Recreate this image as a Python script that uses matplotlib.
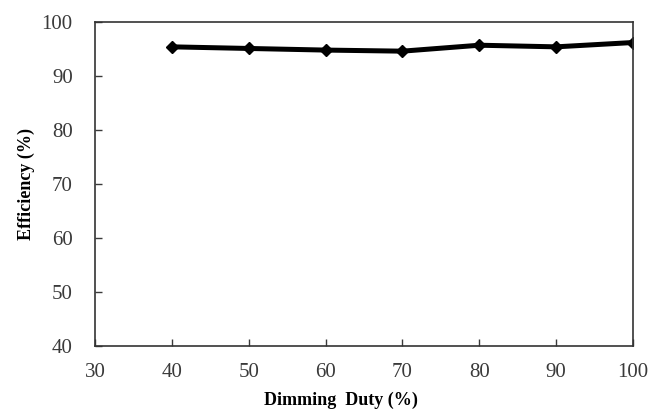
import matplotlib
matplotlib.use("Agg")
import matplotlib.pyplot as plt

duty = [40, 50, 60, 70, 80, 90, 100]
efficiency = [95.4, 95.1, 94.8, 94.6, 95.7, 95.4, 96.2]
x_ticks = [30, 40, 50, 60, 70, 80, 90, 100]
y_ticks = [40, 50, 60, 70, 80, 90, 100]

plt.rcParams['font.family'] = ['Liberation Serif', 'DejaVu Serif']

fig = plt.figure(figsize=(6.54, 4.16), dpi=100)
ax = fig.add_axes([95/654, 1-346/416, (633-95)/654, (346-22)/416])
ax.plot(duty, efficiency, color='black', lw=3.6, marker='D', ms=6, solid_joinstyle='round')
ax.set_xlim(30, 100)
ax.set_ylim(40, 100)
ax.set_xticks(x_ticks)
ax.set_yticks(y_ticks)
ax.tick_params(direction='in', length=5, width=1, labelsize=15, colors='#3a3a3a')
ax.tick_params(axis='y', pad=16)
ax.tick_params(axis='x', pad=12)
for s in ax.spines.values():
    s.set_linewidth(1.2)
    s.set_color('#333333')
ax.set_xlabel('Dimming  Duty (%)', fontsize=13, fontweight='bold', va='center', ha='center')
ax.xaxis.set_label_coords((341-95)/538, (346-400)/324)
ax.set_ylabel('Efficiency (%)', fontsize=13, fontweight='bold', va='center', ha='center')
ax.yaxis.set_label_coords((26-95)/538, 0.5)
fig.savefig('out.png', dpi=100)
